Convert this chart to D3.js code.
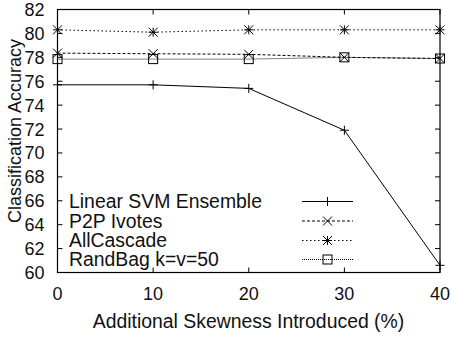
<!DOCTYPE html>
<html>
<head>
<meta charset="utf-8">
<script src="https://cdn.jsdelivr.net/npm/d3@7"></script>
<style>
  html, body { margin: 0; padding: 0; background: #fff; }
  svg { display: block; font-family: "Liberation Sans", Arial, Helvetica, sans-serif; }
</style>
</head>
<body>
<svg id="chart" width="454" height="339"></svg>
<script>
// Skewness levels (x) and accuracy for each method
const skewness = [0, 10, 20, 30, 40];
const linearSvm = [75.7, 75.7, 75.4, 71.9, 60.6];
const p2pIvotes = [78.35, 78.3, 78.25, 78.0, 77.9];
const allCascade = [80.3, 80.1, 80.3, 80.3, 80.3];
const randBag = [77.85, 77.85, 77.85, 78.0, 77.9];

const seriesNames = ["Linear SVM Ensemble", "P2P Ivotes", "AllCascade", "RandBag k=v=50"];
const xTicks = [0, 10, 20, 30, 40];
const yTicks = [60, 62, 64, 66, 68, 70, 72, 74, 76, 78, 80, 82];

const svg = d3.select("#chart");
const margin = { left: 57.5, right: 14, top: 9.5, bottom: 66.5 };
const W = 454, H = 339;
const x = d3.scaleLinear().domain([0, 40]).range([margin.left, W - margin.right]);
const y = d3.scaleLinear().domain([60, 82]).range([H - margin.bottom, margin.top]);

const series = [
  { name: seriesNames[0], values: linearSvm, dash: null, marker: "plus" },
  { name: seriesNames[1], values: p2pIvotes, dash: "3,2", marker: "cross" },
  { name: seriesNames[2], values: allCascade, dash: "1.5,2.5", marker: "star" },
  { name: seriesNames[3], values: randBag, dash: "1,1", marker: "square" }
];

const tickFont = 18;
const labelFont = 19.4;
const tickLen = 5;
const ink = "#111";

// Ticks on all four sides, pointing inward
const g = svg.append("g");
xTicks.forEach(t => {
  g.append("line").attr("x1", x(t)).attr("x2", x(t))
    .attr("y1", y(60)).attr("y2", y(60) - tickLen).attr("stroke", "#000");
  g.append("line").attr("x1", x(t)).attr("x2", x(t))
    .attr("y1", y(82)).attr("y2", y(82) + tickLen).attr("stroke", "#000");
  g.append("text").attr("x", x(t)).attr("y", y(60) + 27)
    .attr("text-anchor", "middle").attr("font-size", tickFont).attr("fill", ink).text(t);
});
yTicks.forEach(t => {
  g.append("line").attr("x1", x(0)).attr("x2", x(0) + tickLen)
    .attr("y1", y(t)).attr("y2", y(t)).attr("stroke", "#000");
  g.append("line").attr("x1", x(40)).attr("x2", x(40) - tickLen)
    .attr("y1", y(t)).attr("y2", y(t)).attr("stroke", "#000");
  g.append("text").attr("x", x(0) - 13).attr("y", y(t) + 6.5)
    .attr("text-anchor", "end").attr("font-size", tickFont).attr("fill", ink).text(t);
});

// Frame
svg.append("rect").attr("x", x(0)).attr("y", y(82))
  .attr("width", x(40) - x(0)).attr("height", y(60) - y(82))
  .attr("fill", "none").attr("stroke", "#000").attr("stroke-width", 1.2);

// Axis titles
svg.append("text").attr("x", 248.5).attr("y", 328)
  .attr("text-anchor", "middle").attr("font-size", labelFont).attr("fill", ink)
  .text("Additional Skewness Introduced (%)");
svg.append("text")
  .attr("transform", `translate(20.5, 131) rotate(-90)`)
  .attr("text-anchor", "middle").attr("font-size", tickFont).attr("fill", ink)
  .text("Classification Accuracy");

// Marker drawing
function drawMarker(sel, type, cx, cy) {
  const s = 4.5;
  const m = sel.append("g").attr("transform", `translate(${cx},${cy})`)
    .attr("stroke", "#000").attr("stroke-width", 1).attr("fill", "none");
  if (type === "plus" || type === "star") {
    m.append("line").attr("x1", -s).attr("x2", s).attr("y1", 0).attr("y2", 0);
    m.append("line").attr("x1", 0).attr("x2", 0).attr("y1", -s).attr("y2", s);
  }
  if (type === "cross" || type === "star") {
    m.append("line").attr("x1", -s).attr("x2", s).attr("y1", -s).attr("y2", s);
    m.append("line").attr("x1", -s).attr("x2", s).attr("y1", s).attr("y2", -s);
  }
  if (type === "square") {
    m.append("rect").attr("x", -s).attr("y", -s).attr("width", 2 * s).attr("height", 2 * s);
  }
}

const line = d3.line().x((d, i) => x(skewness[i])).y(d => y(d));
const plot = svg.append("g");
series.forEach(s => {
  plot.append("path").datum(s.values).attr("d", line)
    .attr("fill", "none").attr("stroke", "#000").attr("stroke-width", 1)
    .attr("stroke-dasharray", s.dash);
  s.values.forEach((v, i) => drawMarker(plot, s.marker, x(skewness[i]), y(v)));
});

// Legend
const legend = svg.append("g");
const legRowY = [201.5, 221, 240.5, 259.5];
series.forEach((s, i) => {
  const ly = legRowY[i];
  legend.append("text").attr("x", 69).attr("y", ly + 6.8)
    .attr("font-size", labelFont).attr("fill", ink).text(s.name);
  legend.append("line").attr("x1", 302).attr("x2", 353).attr("y1", ly).attr("y2", ly)
    .attr("stroke", "#000").attr("stroke-width", 1).attr("stroke-dasharray", s.dash);
  drawMarker(legend, s.marker, 327.5, ly);
});
</script>
</body>
</html>
